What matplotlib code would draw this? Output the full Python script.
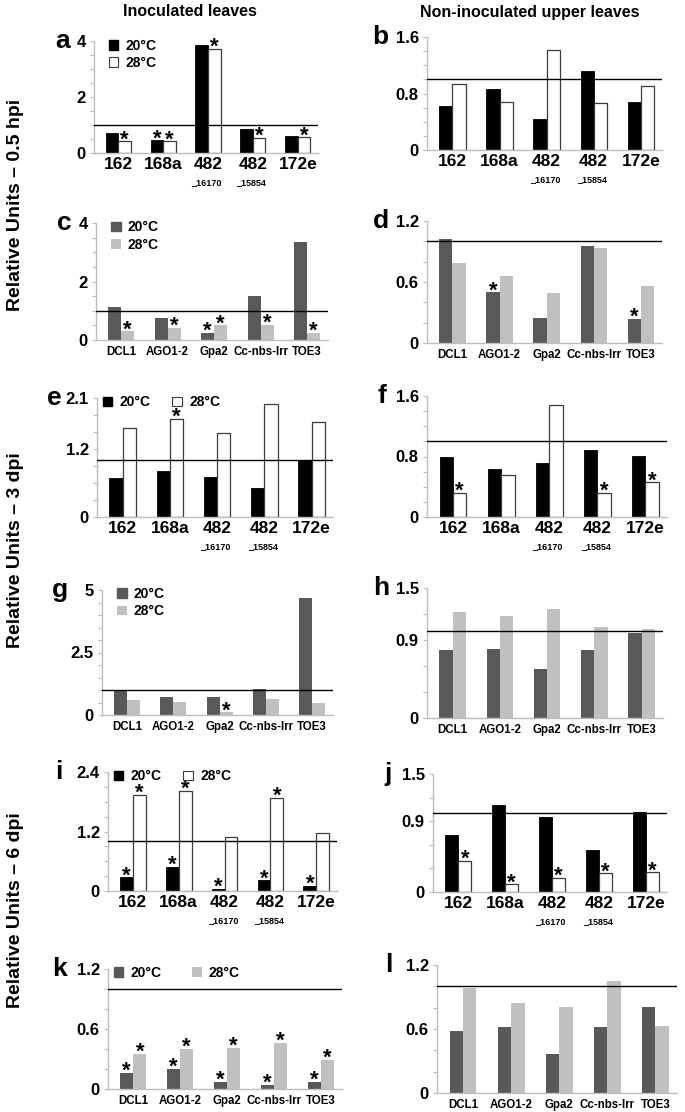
import matplotlib
matplotlib.use('Agg')
import matplotlib.pyplot as plt
from matplotlib.patches import Patch
from matplotlib.ticker import MultipleLocator, FixedLocator
import numpy as np

plt.rcParams['font.family'] = ['Liberation Sans', 'DejaVu Sans']
plt.rcParams['font.weight'] = 'bold'

W, H = 685, 1112

# ---------------- data ----------------
mir_labels = ["162", "168a", "482", "482", "172e"]
mir_sub = ["", "", "_16170", "_15854", ""]
gene_labels = ["DCL1", "AGO1-2", "Gpa2", "Cc-nbs-lrr", "TOE3"]
series_names = ["20°C", "28°C"]

a_20 = [0.71, 0.45, 3.87, 0.86, 0.61]
a_28 = [0.42, 0.42, 3.73, 0.54, 0.56]
a_star20 = [0, 1, 0, 0, 0]
a_star28 = [1, 1, 1, 1, 1]

b_20 = [0.62, 0.87, 0.44, 1.12, 0.68]
b_28 = [0.93, 0.68, 1.41, 0.66, 0.90]
b_star20 = [0, 0, 0, 0, 0]
b_star28 = [0, 0, 0, 0, 0]

c_20 = [1.13, 0.74, 0.25, 1.52, 3.34]
c_28 = [0.30, 0.41, 0.50, 0.52, 0.25]
c_star20 = [0, 0, 1, 0, 0]
c_star28 = [1, 1, 1, 1, 1]

d_20 = [1.02, 0.50, 0.25, 0.95, 0.24]
d_28 = [0.79, 0.66, 0.49, 0.93, 0.56]
d_star20 = [0, 1, 0, 0, 1]
d_star28 = [0, 0, 0, 0, 0]

e_20 = [0.69, 0.82, 0.70, 0.52, 1.01]
e_28 = [1.57, 1.73, 1.48, 2.00, 1.68]
e_star20 = [0, 0, 0, 0, 0]
e_star28 = [0, 1, 0, 0, 0]

f_20 = [0.79, 0.63, 0.72, 0.88, 0.81]
f_28 = [0.32, 0.55, 1.48, 0.32, 0.46]
f_star20 = [0, 0, 0, 0, 0]
f_star28 = [1, 0, 0, 1, 1]

g_20 = [0.96, 0.71, 0.71, 1.04, 4.67]
g_28 = [0.60, 0.52, 0.11, 0.65, 0.49]
g_star20 = [0, 0, 0, 0, 0]
g_star28 = [0, 0, 1, 0, 0]

h_20 = [0.79, 0.80, 0.57, 0.79, 0.98]
h_28 = [1.22, 1.18, 1.26, 1.05, 1.03]
h_star20 = [0, 0, 0, 0, 0]
h_star28 = [0, 0, 0, 0, 0]

i_20 = [0.28, 0.49, 0.05, 0.22, 0.10]
i_28 = [1.94, 2.02, 1.09, 1.88, 1.17]
i_star20 = [1, 1, 1, 1, 1]
i_star28 = [1, 1, 0, 1, 0]

j_20 = [0.72, 1.10, 0.95, 0.53, 1.02]
j_28 = [0.40, 0.10, 0.18, 0.24, 0.25]
j_star20 = [0, 0, 0, 0, 0]
j_star28 = [1, 1, 1, 1, 1]

k_20 = [0.16, 0.20, 0.07, 0.04, 0.07]
k_28 = [0.35, 0.40, 0.41, 0.46, 0.29]
k_star20 = [1, 1, 1, 1, 1]
k_star28 = [1, 1, 1, 1, 1]

l_20 = [0.58, 0.62, 0.37, 0.62, 0.81]
l_28 = [0.98, 0.84, 0.81, 1.05, 0.63]
l_star20 = [0, 0, 0, 0, 0]
l_star28 = [0, 0, 0, 0, 0]

ref_level = 1.0

# ---------------- layout / style ----------------
# name, v20, v28, s20, s28, kind, style, box(px: x0,x1,ytop,ybot), ytop, major, minor, legend, letter_x
panels = [
    ("a", a_20, a_28, a_star20, a_star28, "mir", "bw", (94, 318, 41, 153), 4, [0, 2, 4], 0.5, "v", 55),
    ("b", b_20, b_28, b_star20, b_star28, "mir", "bw", (427, 662, 37, 150), 1.6, [0, 0.8, 1.6], 0.2, None, 372),
    ("c", c_20, c_28, c_star20, c_star28, "gene", "gray", (96, 328, 223, 340), 4, [0, 2, 4], 0.5, "v", 57),
    ("d", d_20, d_28, d_star20, d_star28, "gene", "gray", (427, 662, 221, 343), 1.2, [0, 0.6, 1.2], 0.2, None, 373),
    ("e", e_20, e_28, e_star20, e_star28, "mir", "bw", (97, 333, 398, 517), 2.1, [0, 1.2, 2.1], 0.3, "h", 47),
    ("f", f_20, f_28, f_star20, f_star28, "mir", "bw", (427, 667, 396, 517), 1.6, [0, 0.8, 1.6], 0.2, None, 377),
    ("g", g_20, g_28, g_star20, g_star28, "gene", "gray", (102, 333, 590, 715), 5, [0, 2.5, 5], 0.5, "v", 52),
    ("h", h_20, h_28, h_star20, h_star28, "gene", "gray", (427, 663, 588, 718), 1.5, [0, 0.9, 1.5], 0.3, None, 373),
    ("i", i_20, i_28, i_star20, i_star28, "mir", "bw", (108, 337, 772, 891), 2.4, [0, 1.2, 2.4], 0.3, "h", 55),
    ("j", j_20, j_28, j_star20, j_star28, "mir", "bw", (433, 667, 774, 892), 1.5, [0, 0.9, 1.5], 0.3, None, 384),
    ("k", k_20, k_28, k_star20, k_star28, "gene", "gray", (108, 342, 969, 1089), 1.2, [0, 0.6, 1.2], 0.2, "h", 52),
    ("l", l_20, l_28, l_star20, l_star28, "gene", "gray", (437, 677, 965, 1093), 1.2, [0, 0.6, 1.2], 0.2, None, 385),
]

styles = {
    "bw": (dict(color="black", edgecolor="black", linewidth=0.6),
           dict(color="white", edgecolor="#3a3a3a", linewidth=0.9)),
    "gray": (dict(color="#595959", edgecolor="none"),
             dict(color="#c0c0c0", edgecolor="none")),
}

fig = plt.figure(figsize=(W / 100, H / 100), dpi=100)

bw = 0.28
x = np.arange(5)

for (name, v20, v28, s20, s28, kind, style, box, ytop, major, minor, leg, lx) in panels:
    x0, x1, yt, yb = box
    ax = fig.add_axes([x0 / W, 1 - yb / H, (x1 - x0) / W, (yb - yt) / H])
    st20, st28 = styles[style]
    ax.bar(x - bw / 2, v20, width=bw, **st20)
    ax.bar(x + bw / 2, v28, width=bw, **st28)
    ax.axhline(ref_level, color="black", lw=1.0, zorder=5)
    ax.set_xlim(-0.54, 4.45)
    ax.set_ylim(0, ytop)
    for s in ["top", "right"]:
        ax.spines[s].set_visible(False)
    for s in ["left", "bottom"]:
        ax.spines[s].set_color("#bdbdbd")
        ax.spines[s].set_linewidth(1.0)
    ax.yaxis.set_major_locator(FixedLocator(major))
    ax.yaxis.set_minor_locator(MultipleLocator(minor))
    ax.set_yticklabels([f"{m:g}" for m in major], fontsize=12, fontweight="bold")
    ax.tick_params(axis="y", which="both", color="#bdbdbd", length=3, width=0.8, pad=3)
    ax.set_xticks(x)
    if kind == "mir":
        ax.set_xticklabels(mir_labels, fontsize=12.5, fontweight="bold")
        ax.tick_params(axis="x", length=0, pad=3)
        for xi, sub in zip(x, mir_sub):
            if sub:
                ax.annotate(sub, (xi, 0), xycoords=("data", "axes fraction"),
                            xytext=(-1, -21), textcoords="offset points",
                            ha="center", va="center", fontsize=6.5, fontweight="bold")
    else:
        ax.set_xticklabels(gene_labels, fontsize=8.3, fontweight="bold")
        ax.tick_params(axis="x", length=0, pad=4)
    for vals, stars, off in ((v20, s20, -bw / 2), (v28, s28, bw / 2)):
        for xi, v, s in zip(x, vals, stars):
            if s:
                ax.annotate("*", (xi + off, v), xytext=(0, -3), textcoords="offset points",
                            ha="center", va="baseline", fontsize=16, fontweight="bold",
                            annotation_clip=False)
    if leg is not None:
        handles = [Patch(**{k: v for k, v in st20.items() if k != "linewidth"}),
                   Patch(facecolor=st28["color"], edgecolor=st28["edgecolor"],
                         linewidth=0.8)]
        if leg == "v":
            ax.legend(handles, series_names, loc="upper left", bbox_to_anchor=(0.04, 1.07),
                      ncol=1, frameon=False, handlelength=0.7,
                      handleheight=0.7, handletextpad=0.5, labelspacing=0.25,
                      borderaxespad=0, prop=dict(weight="bold", size=10))
        else:
            cs = 2.2 if name == "k" else 1.6
            ax.legend(handles, series_names, loc="upper left", bbox_to_anchor=(0.0, 1.07),
                      ncol=2, frameon=False, handlelength=0.7,
                      handleheight=0.7, handletextpad=0.5, columnspacing=cs,
                      borderaxespad=0, prop=dict(weight="bold", size=10))
    # panel letter
    fig.text(lx / W, 1 - (yt + 7) / H, name, fontsize=19, fontweight="bold",
             ha="left", va="baseline")

# column headers
fig.text(190 / W, 1 - 12 / H, "Inoculated leaves", fontsize=11.5, fontweight="bold",
         ha="center", va="center")
fig.text(530 / W, 1 - 12 / H, "Non-inoculated upper leaves", fontsize=11.5, fontweight="bold",
         ha="center", va="center")

# row labels
for label, yc in (("Relative Units – 0.5 hpi", 205), ("Relative Units – 3 dpi", 550),
                  ("Relative Units – 6 dpi", 910)):
    fig.text(16 / W, 1 - yc / H, label, fontsize=14, fontweight="bold", rotation=90,
             ha="center", va="center")

fig.savefig("out.png", dpi=100)
